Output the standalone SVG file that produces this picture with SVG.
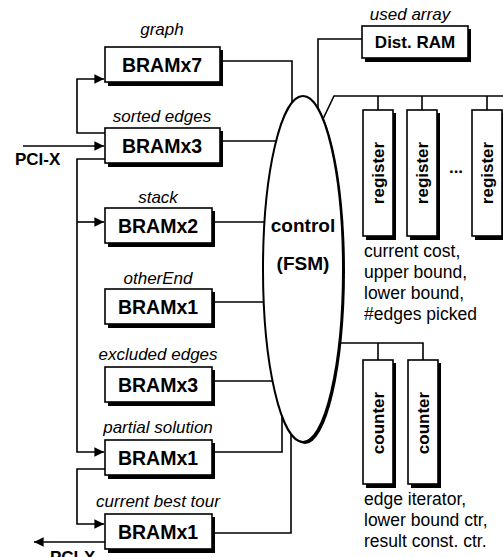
<svg xmlns="http://www.w3.org/2000/svg" width="503" height="557" viewBox="0 0 503 557">
<style>
.box{fill:#fff;stroke:#000;stroke-width:1.6}
.sh{fill:#000}
.ln{fill:none;stroke:#000;stroke-width:1.6}
.lbl{font-family:"Liberation Sans",Arial,sans-serif;font-style:italic;font-size:17px;text-anchor:middle}
.bt{font-family:"Liberation Sans",Arial,sans-serif;font-weight:bold;font-size:19.5px;text-anchor:middle}
.vt{font-family:"Liberation Sans",Arial,sans-serif;font-weight:bold;font-size:17px;text-anchor:middle}
.tx{font-family:"Liberation Sans",Arial,sans-serif;font-size:17.5px}
</style>
<defs>
<marker id="ah" viewBox="0 0 10 10" refX="10" refY="5" markerWidth="6" markerHeight="6" orient="auto" markerUnits="strokeWidth"><path d="M0,0L10,5L0,10z" fill="#000"/></marker>
</defs>
<rect width="503" height="557" fill="#fff"/>
<g id="connectors">
<path class="ln" d="M105,133H77V79H104" marker-end="url(#ah)"/>
<path class="ln" d="M23,146H104" marker-end="url(#ah)"/>
<path class="ln" d="M105,159H77V452H104" marker-end="url(#ah)"/>
<path class="ln" d="M77,222H104" marker-end="url(#ah)"/>
<path class="ln" d="M105,469H77V524H104" marker-end="url(#ah)"/>
<path class="ln" d="M105,542H34" marker-end="url(#ah)"/>
<path class="ln" d="M220,61H292V104"/>
<path class="ln" d="M220,141H276"/>
<path class="ln" d="M212,222H265"/>
<path class="ln" d="M212,302H264"/>
<path class="ln" d="M212,381H272"/>
<path class="ln" d="M212,452H282V416"/>
<path class="ln" d="M212,533H291V434"/>
<path class="ln" d="M362,39H318V109"/>
<path class="ln" d="M323,119L334,96H503M378,96V110M422,96V110M487,96V110"/>
<path class="ln" d="M339,343H423V360M378,343V360"/>
</g>
<g id="control">
<ellipse cx="305" cy="271" rx="40" ry="173" fill="#000"/>
<ellipse cx="303" cy="269" rx="40" ry="173" fill="#fff" stroke="#000" stroke-width="2"/>
<text class="vt" x="303" y="232" style="font-size:19px">control</text>
<text class="vt" x="303" y="270" style="font-size:19px">(FSM)</text>
</g>
<g id="graph">
<rect class="sh" x="108" y="50" width="115" height="36"/>
<rect class="box" x="105" y="47" width="115" height="35"/>
<text class="lbl" x="162" y="35">graph</text>
<text class="bt" x="162" y="72">BRAMx7</text>
</g>
<g id="sorted">
<rect class="sh" x="108" y="131" width="115" height="36"/>
<rect class="box" x="105" y="128" width="115" height="35"/>
<text class="lbl" x="162" y="122">sorted edges</text>
<text class="bt" x="162" y="153">BRAMx3</text>
</g>
<g id="stack">
<rect class="sh" x="108" y="211" width="107" height="36"/>
<rect class="box" x="105" y="208" width="107" height="35"/>
<text class="lbl" x="158" y="203">stack</text>
<text class="bt" x="158" y="233">BRAMx2</text>
</g>
<g id="otherEnd">
<rect class="sh" x="108" y="292" width="107" height="36"/>
<rect class="box" x="105" y="289" width="107" height="35"/>
<text class="lbl" x="158" y="284">otherEnd</text>
<text class="bt" x="158" y="314">BRAMx1</text>
</g>
<g id="excluded">
<rect class="sh" x="108" y="370" width="107" height="36"/>
<rect class="box" x="105" y="367" width="107" height="35"/>
<text class="lbl" x="158" y="360">excluded edges</text>
<text class="bt" x="158" y="392">BRAMx3</text>
</g>
<g id="partial">
<rect class="sh" x="108" y="443" width="107" height="36"/>
<rect class="box" x="105" y="440" width="107" height="35"/>
<text class="lbl" x="158" y="433">partial solution</text>
<text class="bt" x="158" y="465">BRAMx1</text>
</g>
<g id="best">
<rect class="sh" x="108" y="517" width="107" height="36"/>
<rect class="box" x="105" y="514" width="107" height="35"/>
<text class="lbl" x="158" y="507">current best tour</text>
<text class="bt" x="158" y="539">BRAMx1</text>
</g>
<g id="pcix">
<text class="vt" x="15" y="165" style="text-anchor:start">PCI-X</text>
<text class="vt" x="50" y="563" style="text-anchor:start">PCI-X</text>
</g>
<g id="distram">
<rect class="sh" x="365" y="29" width="106" height="33"/>
<rect class="box" x="362" y="26" width="106" height="32"/>
<text class="lbl" x="410" y="20">used array</text>
<text class="vt" x="415" y="48">Dist. RAM</text>
</g>
<g id="registers">
<rect class="sh" x="366" y="113" width="30" height="127"/>
<rect class="box" x="363" y="110" width="30" height="126"/>
<text class="vt" transform="translate(384,173) rotate(-90)">register</text>
<rect class="sh" x="410" y="113" width="30" height="127"/>
<rect class="box" x="407" y="110" width="30" height="126"/>
<text class="vt" transform="translate(428,173) rotate(-90)">register</text>
<rect class="sh" x="475" y="113" width="30" height="127"/>
<rect class="box" x="472" y="110" width="30" height="126"/>
<text class="vt" transform="translate(493,173) rotate(-90)">register</text>
<text class="vt" x="456" y="173">...</text>
<text class="tx" x="364" y="257">current cost,</text>
<text class="tx" x="364" y="278">upper bound,</text>
<text class="tx" x="364" y="299">lower bound,</text>
<text class="tx" x="364" y="320">#edges picked</text>
</g>
<g id="counters">
<rect class="sh" x="366" y="363" width="30" height="125"/>
<rect class="box" x="363" y="360" width="30" height="124"/>
<text class="vt" transform="translate(384,423) rotate(-90)">counter</text>
<rect class="sh" x="411" y="363" width="30" height="125"/>
<rect class="box" x="408" y="360" width="30" height="124"/>
<text class="vt" transform="translate(429,423) rotate(-90)">counter</text>
<text class="tx" x="364" y="505">edge iterator,</text>
<text class="tx" x="364" y="526">lower bound ctr,</text>
<text class="tx" x="364" y="547">result const. ctr.</text>
</g>
</svg>
